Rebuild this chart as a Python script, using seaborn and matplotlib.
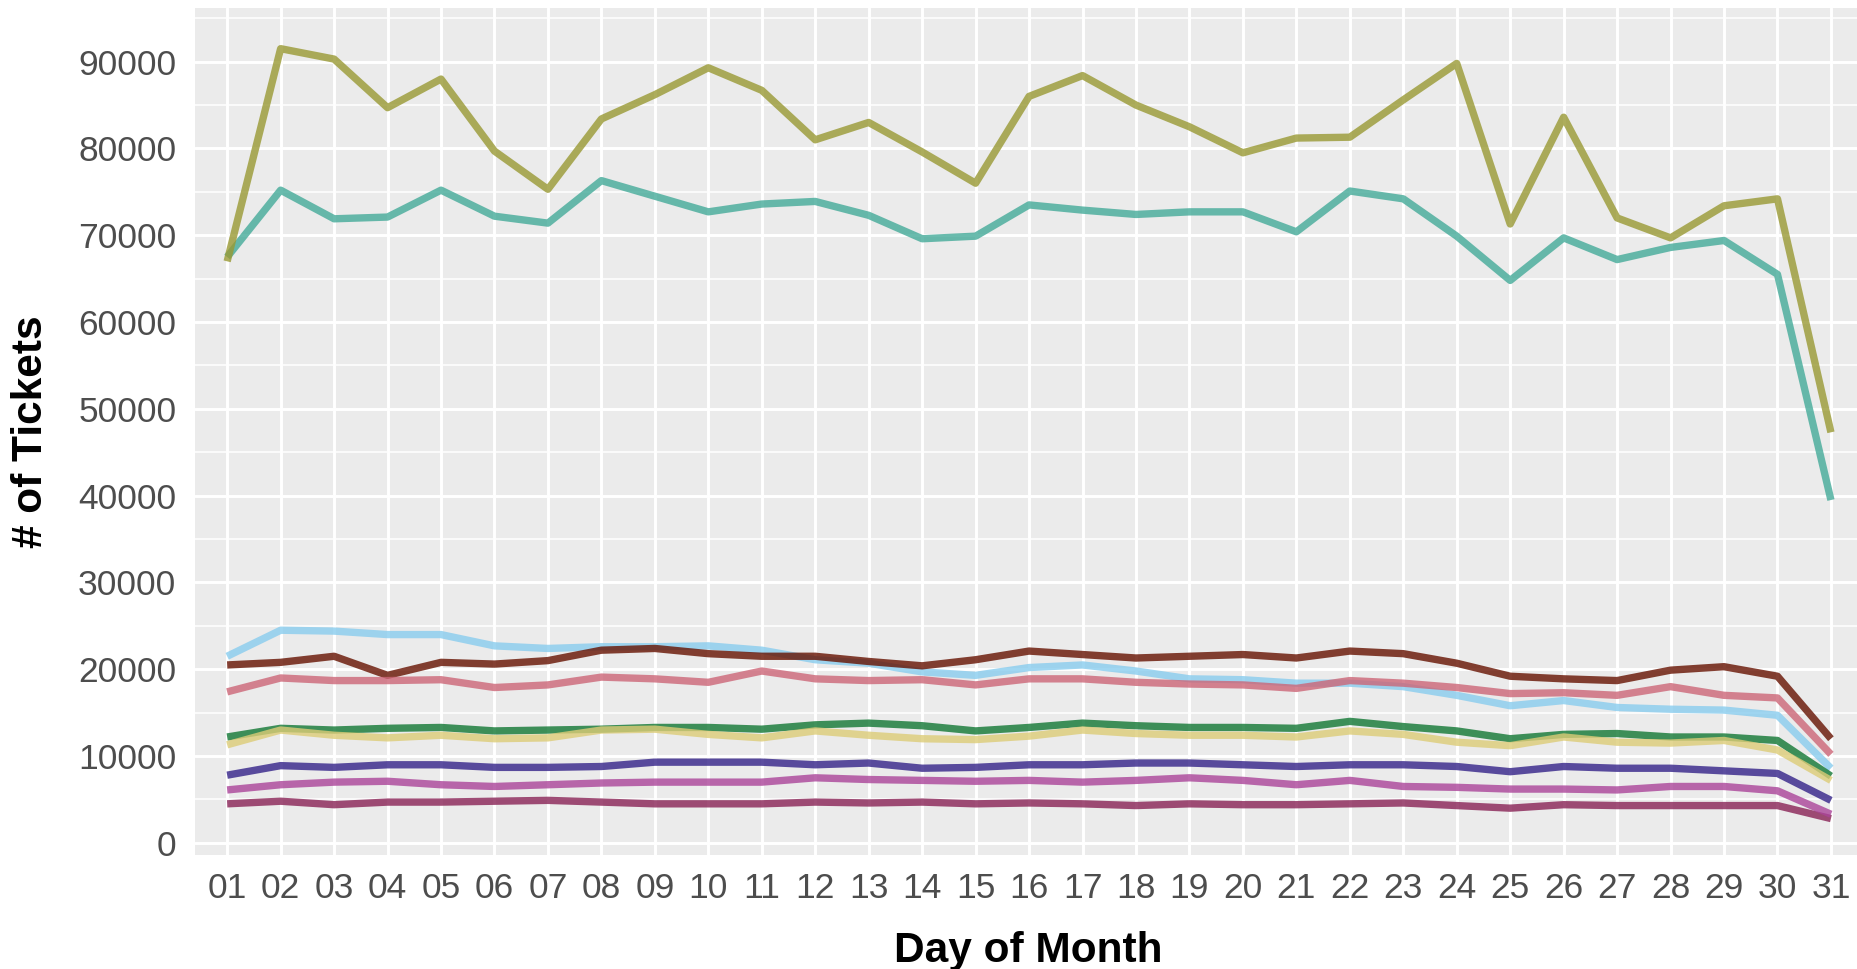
import numpy as np
import pandas as pd
import matplotlib
matplotlib.use("Agg")
import matplotlib.pyplot as plt
import seaborn as sns

days = ["01", "02", "03", "04", "05", "06", "07", "08", "09", "10",
        "11", "12", "13", "14", "15", "16", "17", "18", "19", "20",
        "21", "22", "23", "24", "25", "26", "27", "28", "29", "30", "31"]

# daily ticket counts per series
cyan = [21500, 24500, 24400, 24000, 24000, 22700, 22400, 22600, 22600, 22700,
        22200, 21100, 20700, 19700, 19300, 20200, 20500, 19800, 18900, 18800,
        18400, 18400, 18000, 17000, 15800, 16400, 15600, 15400, 15300, 14700, 8600]
brown = [20500, 20800, 21500, 19300, 20800, 20600, 21000, 22200, 22400, 21800,
         21500, 21500, 20900, 20400, 21100, 22100, 21700, 21300, 21500, 21700,
         21300, 22100, 21800, 20700, 19200, 18900, 18700, 19900, 20300, 19200, 12000]
rose = [17400, 19000, 18700, 18700, 18800, 17900, 18200, 19100, 18900, 18500,
        19800, 18900, 18700, 18800, 18200, 18900, 18900, 18500, 18300, 18200,
        17800, 18700, 18400, 17900, 17200, 17300, 17000, 18000, 17000, 16700, 10200]
green = [12200, 13200, 13000, 13200, 13300, 12900, 13000, 13100, 13300, 13300,
         13100, 13600, 13800, 13500, 12900, 13300, 13800, 13500, 13300, 13300,
         13200, 14000, 13400, 12900, 12000, 12500, 12600, 12200, 12200, 11800, 7700]
sand = [11300, 13000, 12400, 12100, 12400, 12000, 12100, 13000, 13100, 12500,
        12100, 12900, 12400, 12000, 11900, 12300, 13000, 12600, 12400, 12400,
        12200, 12900, 12500, 11600, 11200, 12200, 11600, 11500, 11800, 10700, 7200]
indigo = [7800, 8900, 8700, 9000, 9000, 8700, 8700, 8800, 9300, 9300,
          9300, 9000, 9200, 8600, 8700, 9000, 9000, 9200, 9200, 9000,
          8800, 9000, 9000, 8800, 8200, 8800, 8600, 8600, 8300, 8000, 4900]
wine = [4500, 4800, 4400, 4700, 4700, 4800, 4900, 4700, 4500, 4500,
        4500, 4700, 4600, 4700, 4500, 4600, 4500, 4300, 4500, 4400,
        4400, 4500, 4600, 4300, 4000, 4400, 4300, 4300, 4300, 4300, 2800]
purple = [6100, 6700, 7000, 7100, 6700, 6500, 6700, 6900, 7000, 7000,
          7000, 7500, 7300, 7200, 7100, 7200, 7000, 7200, 7500, 7200,
          6700, 7200, 6500, 6400, 6200, 6200, 6100, 6500, 6500, 6000, 3300]
teal = [67500, 75200, 71900, 72100, 75200, 72200, 71400, 76300, 74500, 72700,
        73600, 73900, 72300, 69600, 69900, 73500, 72900, 72400, 72700, 72700,
        70400, 75100, 74200, 69900, 64800, 69700, 67200, 68600, 69400, 65500, 39500]
olive = [67000, 91500, 90300, 84700, 88000, 79700, 75300, 83400, 86200, 89300,
         86700, 81000, 83000, 79600, 76000, 86000, 88400, 85000, 82500, 79500,
         81200, 81300, 85600, 89800, 71300, 83600, 72000, 69700, 73400, 74200, 47300]

series_names = ["cyan", "brown", "rose", "green", "sand",
                "indigo", "wine", "purple", "teal", "olive"]
series_values = [cyan, brown, rose, green, sand, indigo, wine, purple, teal, olive]
series_colors = ["#88CCEE", "#661100", "#CC6677", "#117733", "#DDCC77",
                 "#332288", "#882255", "#AA4499", "#44AA99", "#999933"]

yticks = [0, 10000, 20000, 30000, 40000, 50000, 60000, 70000, 80000, 90000]
ytick_labels = ["0", "10000", "20000", "30000", "40000",
                "50000", "60000", "70000", "80000", "90000"]

df = pd.DataFrame({
    "day": days * len(series_names),
    "series": np.repeat(series_names, len(days)),
    "tickets": np.concatenate(series_values),
})

sns.set_theme(style="darkgrid")
plt.rcParams["font.family"] = ["Liberation Sans", "DejaVu Sans"]

fig = plt.figure(figsize=(18.58, 9.69), dpi=100)
ax = fig.add_axes([0.105, 0.1176, 0.8977, 0.8741])
ax.set_facecolor("#EBEBEB")

sns.lineplot(data=df, x="day", y="tickets", hue="series", hue_order=series_names,
             palette=dict(zip(series_names, series_colors)), linewidth=5.3,
             alpha=0.8, legend=False, sort=False, ax=ax,
             solid_capstyle="butt", solid_joinstyle="round")

ax.set_xlim(-0.6, len(days) - 1 + 0.6)
ax.set_ylim(-1400, 96180)
ax.set_xticks(range(len(days)))
ax.set_xticklabels(days)
ax.set_yticks(yticks)
ax.set_yticklabels(ytick_labels)
ax.set_yticks([5000, 15000, 25000, 35000, 45000, 55000, 65000, 75000, 85000, 95000], minor=True)

# ggplot-ish grid
ax.grid(which="major", color="white", linewidth=2.1)
ax.grid(which="minor", axis="y", color="white", linewidth=1.1)
ax.set_axisbelow(True)
for s in ax.spines.values():
    s.set_visible(False)

ax.tick_params(axis="both", which="major", length=6.5, width=2, color="#333333",
               labelsize=25.5, labelcolor="#4D4D4D")
ax.tick_params(axis="x", pad=5.5)
ax.tick_params(axis="y", pad=7)
ax.tick_params(which="minor", length=0)

ax.set_xlabel("Day of Month", fontsize=30.5, fontweight="bold", color="black", va="baseline")
ax.set_ylabel("# of Tickets", fontsize=30.5, fontweight="bold", color="black", va="baseline")
ax.xaxis.set_label_coords(0.4994, -0.1263)
ax.yaxis.set_label_coords(-0.0915, 0.5)

plt.savefig("out.png", dpi=100)
